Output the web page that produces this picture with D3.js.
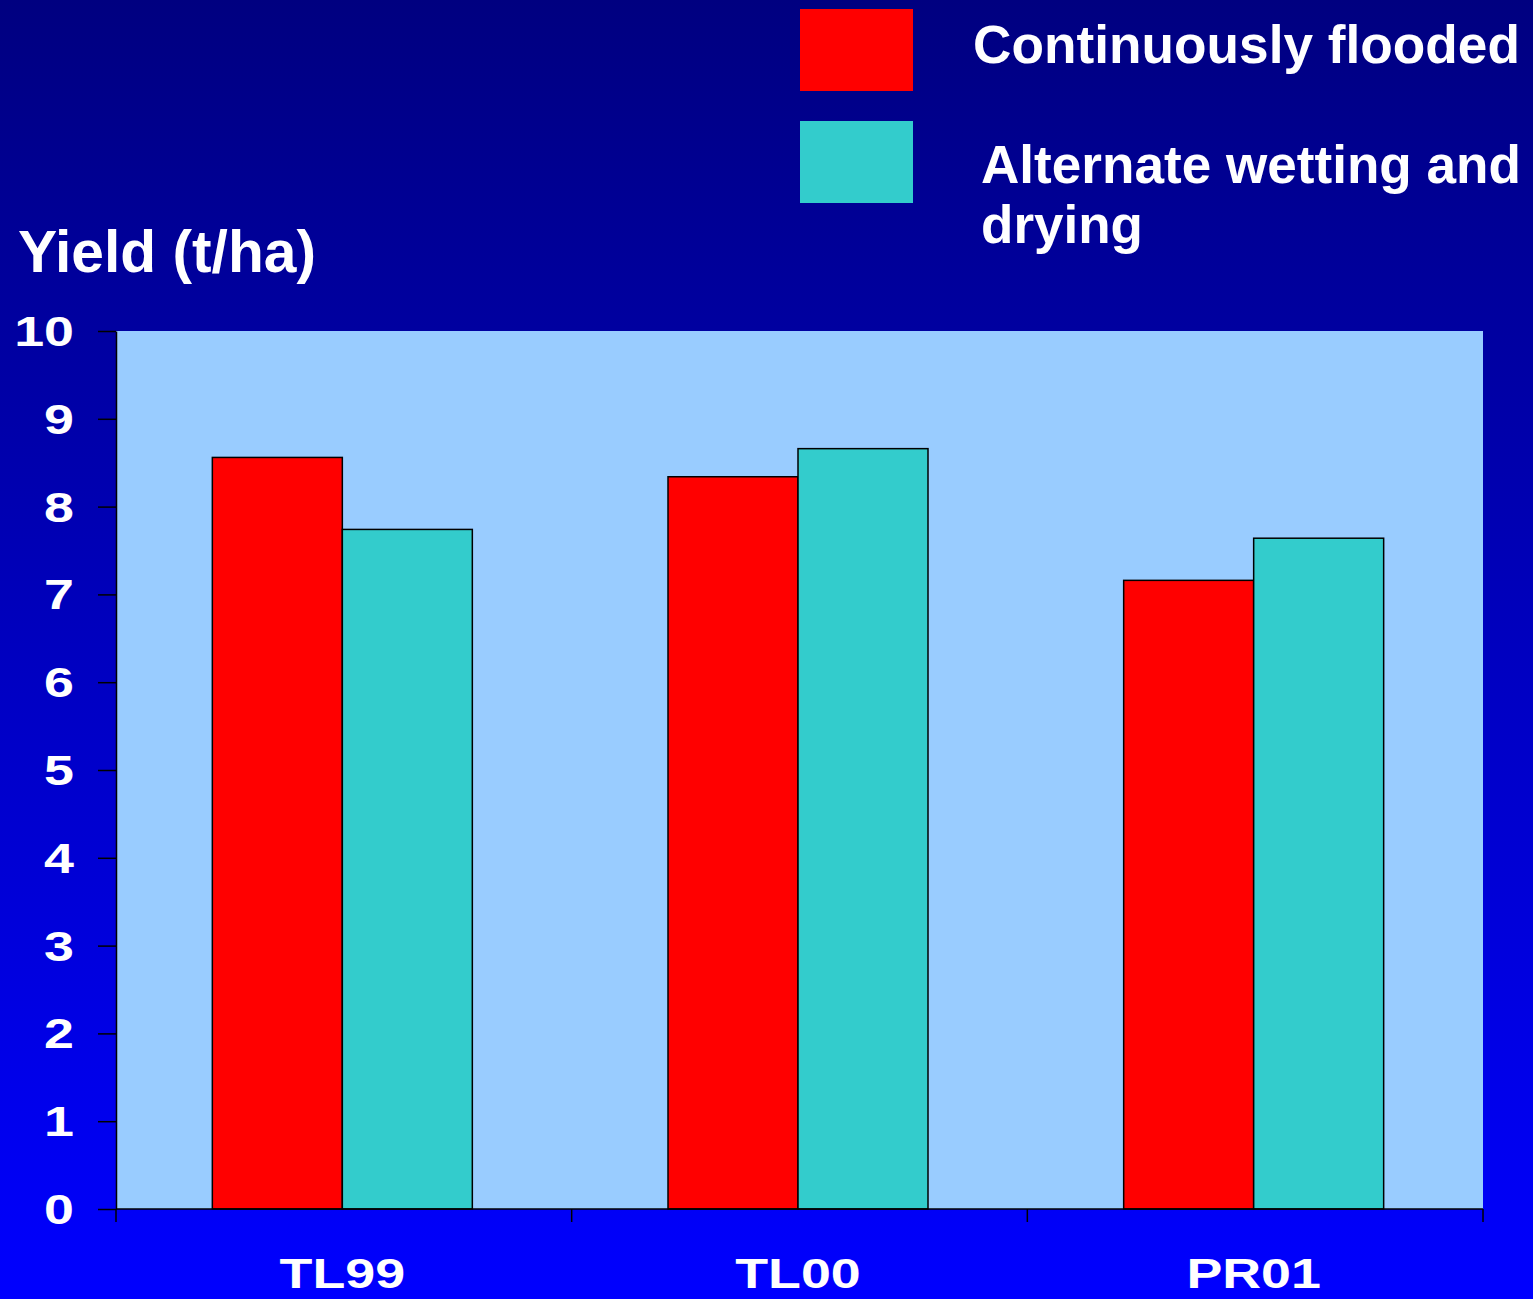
<!DOCTYPE html>
<html><head><meta charset="utf-8">
<script src="https://cdn.jsdelivr.net/npm/d3@7"></script>
<style>html,body{margin:0;padding:0;overflow:hidden;}svg{display:block;}</style>
</head><body>
<script>
const categories = ["TL99", "TL00", "PR01"];
const seriesNames = ["Continuously flooded", "Alternate wetting and drying"];
const continuouslyFlooded = [8.56, 8.34, 7.16];
const alternateWetting = [7.74, 8.66, 7.64];
const yTicks = [0,1,2,3,4,5,6,7,8,9,10];
const colors = ["#FF0000", "#33CCCC"];

(function(){
const W = 1533, H = 1299;
const svg = d3.select("body").append("svg").attr("width", W).attr("height", H);
const defs = svg.append("defs");
const grad = defs.append("linearGradient").attr("id","bg").attr("x1",0).attr("y1",0).attr("x2",0).attr("y2",1);
grad.append("stop").attr("offset","0%").attr("stop-color","#000080");
grad.append("stop").attr("offset","100%").attr("stop-color","#0000FF");
svg.append("rect").attr("width",W).attr("height",H).attr("fill","url(#bg)");

const pLeft = 116, pRight = 1483, pTop = 331, pBottom = 1209;
const x = d3.scaleBand().domain(categories).range([pLeft, pRight]).padding(0);
const xs = d3.scaleBand().domain([0,1]).range([0, x.bandwidth()]).paddingInner(0).paddingOuter(0.7526);
const y = d3.scaleLinear().domain([0,10]).range([pBottom, pTop]);

svg.append("rect").attr("x",pLeft).attr("y",pTop).attr("width",pRight-pLeft).attr("height",pBottom-pTop).attr("fill","#99CCFF");

const data = categories.map((c,i)=>({cat:c, vals:[continuouslyFlooded[i], alternateWetting[i]]}));
const g = svg.append("g");
data.forEach(d=>{
  d.vals.forEach((v,j)=>{
    g.append("rect")
      .attr("x", x(d.cat) + xs(j) - 1.5)
      .attr("y", y(v))
      .attr("width", xs.bandwidth())
      .attr("height", y(0)-y(v))
      .attr("fill", colors[j])
      .attr("stroke","#000").attr("stroke-width",1.5);
  });
});

const yAxis = svg.append("g").attr("transform",`translate(${pLeft},0)`)
  .call(d3.axisLeft(y).tickValues(yTicks).tickSize(18).tickSizeOuter(0).tickPadding(0).tickFormat(""));
yAxis.select(".domain").attr("stroke","#000").attr("stroke-width",1.5);
yAxis.selectAll(".tick line").attr("stroke","#000").attr("stroke-width",1.5);

const xAxis = svg.append("g").attr("transform",`translate(0,${pBottom})`);
xAxis.append("line").attr("x1",pLeft).attr("x2",pRight).attr("y1",0).attr("y2",0).attr("stroke","#000").attr("stroke-width",1.5);
const xEdges = categories.map(c=>x(c)).concat([pRight]);
xAxis.selectAll("line.t").data(xEdges).enter().append("line").attr("class","t")
  .attr("x1",d=>d).attr("x2",d=>d).attr("y1",0).attr("y2",13).attr("stroke","#000").attr("stroke-width",1.5);

const font = "'Liberation Sans', Arial, sans-serif";
function stretch(sel, k){
  sel.each(function(){
    const w = this.getComputedTextLength();
    d3.select(this).attr("textLength", w*k).attr("lengthAdjust","spacingAndGlyphs");
  });
}
const yl = svg.append("g").selectAll("text").data(yTicks).enter().append("text")
  .attr("x", 74).attr("y", d=>y(d)+15)
  .attr("text-anchor","end")
  .attr("font-family",font).attr("font-weight","bold").attr("font-size",42)
  .attr("fill","#fff").text(d=>d);
stretch(yl, 1.28);

const xl = svg.append("g").selectAll("text").data(categories).enter().append("text")
  .attr("x", d=>x(d)+x.bandwidth()/2 - 1.5).attr("y", 1288)
  .attr("text-anchor","middle")
  .attr("font-family",font).attr("font-weight","bold").attr("font-size",42)
  .attr("fill","#fff").text(d=>d);
stretch(xl, 1.28);

svg.append("text").attr("x",18).attr("y",272)
  .attr("font-family",font).attr("font-weight","bold").attr("font-size",59)
  .attr("fill","#fff").attr("textLength",298).attr("lengthAdjust","spacingAndGlyphs")
  .text("Yield (t/ha)");

const leg = svg.append("g");
leg.append("rect").attr("x",800).attr("y",9).attr("width",113).attr("height",82).attr("fill",colors[0]);
leg.append("rect").attr("x",800).attr("y",121).attr("width",113).attr("height",82).attr("fill",colors[1]);
leg.append("text").attr("x",973).attr("y",63)
  .attr("font-family",font).attr("font-weight","bold").attr("font-size",53)
  .attr("fill","#fff").attr("textLength",547).attr("lengthAdjust","spacingAndGlyphs")
  .text(seriesNames[0]);
leg.append("text").attr("x",981).attr("y",183)
  .attr("font-family",font).attr("font-weight","bold").attr("font-size",53)
  .attr("fill","#fff").attr("textLength",540).attr("lengthAdjust","spacingAndGlyphs")
  .text("Alternate wetting and");
leg.append("text").attr("x",981).attr("y",243)
  .attr("font-family",font).attr("font-weight","bold").attr("font-size",53)
  .attr("fill","#fff").attr("textLength",162).attr("lengthAdjust","spacingAndGlyphs")
  .text("drying");
})();
</script>
</body></html>
